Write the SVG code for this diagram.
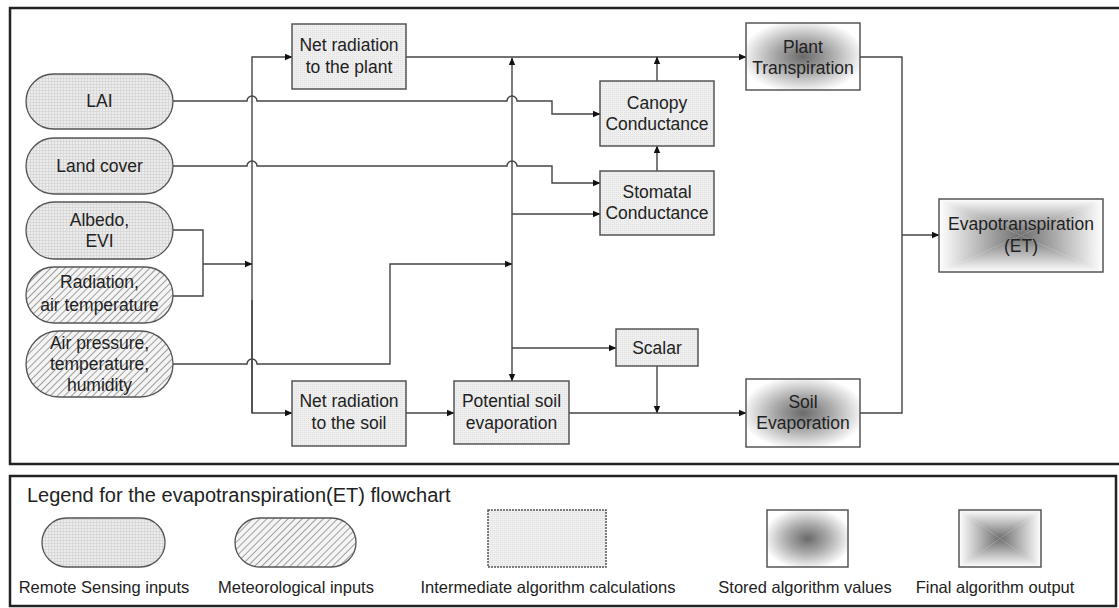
<svg xmlns="http://www.w3.org/2000/svg" width="1119" height="608" viewBox="0 0 1119 608">
<style>
text{font-family:"Liberation Sans",Arial,sans-serif;font-size:17.5px;fill:#222;text-anchor:middle}
.rs{fill:url(#grid);stroke:#555;stroke-width:1.3}
.met{fill:url(#hatch);stroke:#555;stroke-width:1.3}
.mid{fill:url(#dots);stroke:#555;stroke-width:1.5}
.sto{fill:url(#rad);stroke:#555;stroke-width:1.5}
.fin{fill:none;stroke:#555;stroke-width:1.5}
.c{fill:none;stroke:#444;stroke-width:1.4}
.a{marker-end:url(#ah)}
.frame{fill:none;stroke:#222;stroke-width:2.5}
.leg{font-size:16.5px;text-anchor:middle}
</style>
<defs>
<pattern id="grid" width="3" height="3" patternUnits="userSpaceOnUse">
<rect width="3" height="3" fill="#ececec"/>
<path d="M0,0.5H3M0.5,0V3" stroke="#d6d6d6" stroke-width="0.8"/>
</pattern>
<pattern id="hatch" width="5" height="5" patternUnits="userSpaceOnUse" patternTransform="rotate(45)">
<rect width="5" height="5" fill="#f4f4f4"/>
<line x1="0" y1="0" x2="0" y2="5" stroke="#7a7a7a" stroke-width="1.4"/>
</pattern>
<pattern id="dots" width="2" height="2" patternUnits="userSpaceOnUse">
<rect width="2" height="2" fill="#efefef"/>
<rect width="1" height="1" fill="#e0e0e0"/>
</pattern>
<radialGradient id="rad" cx="0.5" cy="0.5" r="0.55">
<stop offset="0" stop-color="#6a6a6a"/>
<stop offset="0.45" stop-color="#a8a8a8"/>
<stop offset="1" stop-color="#ffffff"/>
</radialGradient>
<linearGradient id="gT" x1="0" y1="0" x2="0" y2="1"><stop offset="0" stop-color="#fff"/><stop offset="1" stop-color="#6e6e6e"/></linearGradient>
<linearGradient id="gB" x1="0" y1="1" x2="0" y2="0"><stop offset="0" stop-color="#fff"/><stop offset="1" stop-color="#6e6e6e"/></linearGradient>
<linearGradient id="gL" x1="0" y1="0" x2="1" y2="0"><stop offset="0" stop-color="#fff"/><stop offset="1" stop-color="#6e6e6e"/></linearGradient>
<linearGradient id="gR" x1="1" y1="0" x2="0" y2="0"><stop offset="0" stop-color="#fff"/><stop offset="1" stop-color="#6e6e6e"/></linearGradient>
<marker id="ah" markerWidth="8" markerHeight="8" refX="7" refY="4" orient="auto-start-reverse" markerUnits="userSpaceOnUse">
<path d="M0,0.8 L7.5,4 L0,7.2 Z" fill="#111"/>
</marker>
</defs>
<rect width="1119" height="608" fill="#fff"/>
<rect class="frame" x="10" y="8" width="1125" height="456"/>
<rect class="frame" x="10" y="476" width="1106" height="130" stroke-width="2"/>

<g id="connectors">
<path class="c a" d="M252,413 V57 H292"/>
<path class="c a" d="M252,300 V413 H292"/>
<path class="c" d="M173,230 H203 V296 H173"/>
<path class="c a" d="M203,264 H252"/>
<path class="c a" d="M173,101 H247 a5,5 0 0 1 10,0 H507 a5,5 0 0 1 10,0 H552 V114 H600"/>
<path class="c a" d="M173,166 H247 a5,5 0 0 1 10,0 H507 a5,5 0 0 1 10,0 H552 V183 H600"/>
<path class="c a" d="M173,364 H247 a5,5 0 0 1 10,0 H390 V264 H512"/>
<path class="c a" d="M406,57 H746"/>
<path class="c a" d="M512,58 V381" style="marker-start:url(#ah)"/>
<path class="c a" d="M512,214 H600"/>
<path class="c a" d="M512,348 H616"/>
<path class="c a" d="M657,366 V413"/>
<path class="c a" d="M406,413 H454"/>
<path class="c a" d="M569,413 H746"/>
<path class="c a" d="M657,81 V57"/>
<path class="c a" d="M657,171 V146"/>
<path class="c" d="M860,57 H902 V413 H860"/>
<path class="c a" d="M902,235 H939"/>
</g>

<g id="lai"><rect class="rs" x="26" y="74" width="147" height="55" rx="27.5"/><text x="99.5" y="107">LAI</text></g>
<g id="landcover"><rect class="rs" x="26" y="138" width="147" height="56" rx="28"/><text x="99.5" y="172">Land cover</text></g>
<g id="albedo"><rect class="rs" x="26" y="202" width="147" height="57" rx="28.5"/><text x="99.5" y="226">Albedo,</text><text x="99.5" y="247">EVI</text></g>
<g id="radiation"><rect class="met" x="26" y="267" width="147" height="56" rx="28"/><text x="99.5" y="288">Radiation,</text><text x="99.5" y="311">air temperature</text></g>
<g id="airpressure"><rect class="met" x="26" y="331" width="147" height="66" rx="33"/><text x="99.5" y="349">Air pressure,</text><text x="99.5" y="370">temperature,</text><text x="99.5" y="391">humidity</text></g>

<g id="netrad-plant"><rect class="mid" x="292" y="24" width="114" height="65"/><text x="349" y="51">Net radiation</text><text x="349" y="73">to the plant</text></g>
<g id="netrad-soil"><rect class="mid" x="292" y="381" width="114" height="65"/><text x="349" y="407">Net radiation</text><text x="349" y="429">to the soil</text></g>
<g id="potential"><rect class="mid" x="454" y="381" width="115" height="63"/><text x="511.5" y="407">Potential soil</text><text x="511.5" y="429">evaporation</text></g>
<g id="canopy"><rect class="mid" x="600" y="81" width="114" height="65"/><text x="657" y="109">Canopy</text><text x="657" y="130">Conductance</text></g>
<g id="stomatal"><rect class="mid" x="600" y="171" width="114" height="64"/><text x="657" y="198">Stomatal</text><text x="657" y="219">Conductance</text></g>
<g id="scalar"><rect class="mid" x="616" y="329" width="82" height="37"/><text x="657" y="354">Scalar</text></g>

<g id="plant-transpiration"><rect class="sto" x="746" y="23" width="114" height="67"/><text x="803" y="53">Plant</text><text x="803" y="74">Transpiration</text></g>
<g id="soil-evaporation"><rect class="sto" x="746" y="379" width="114" height="68"/><text x="803" y="408">Soil</text><text x="803" y="429">Evaporation</text></g>

<g id="et">
<polygon points="939,199 1103,199 1021,235.5" fill="url(#gT)"/>
<polygon points="939,272 1103,272 1021,235.5" fill="url(#gB)"/>
<polygon points="939,199 939,272 1021,235.5" fill="url(#gL)"/>
<polygon points="1103,199 1103,272 1021,235.5" fill="url(#gR)"/>
<rect class="fin" x="939" y="199" width="164" height="73"/>
<text x="1021" y="230">Evapotranspiration</text><text x="1021" y="252">(ET)</text>
</g>

<g id="legend">
<text x="27" y="502" style="font-size:20px;text-anchor:start">Legend for the evapotranspiration(ET) flowchart</text>
<rect class="rs" x="42" y="518" width="123" height="49" rx="24.5"/>
<rect class="met" x="235" y="518" width="121" height="49" rx="24.5"/>
<rect class="mid" x="488" y="510" width="118" height="57" stroke-dasharray="2,1"/>
<rect class="sto" x="767" y="510" width="81" height="57"/>
<g>
<polygon points="959,510 1041,510 1000,538.5" fill="url(#gT)"/>
<polygon points="959,567 1041,567 1000,538.5" fill="url(#gB)"/>
<polygon points="959,510 959,567 1000,538.5" fill="url(#gL)"/>
<polygon points="1041,510 1041,567 1000,538.5" fill="url(#gR)"/>
<rect class="fin" x="959" y="510" width="82" height="57"/>
</g>
<text class="leg" x="104" y="593">Remote Sensing inputs</text>
<text class="leg" x="296" y="593">Meteorological inputs</text>
<text class="leg" x="548" y="593">Intermediate algorithm calculations</text>
<text class="leg" x="805" y="593">Stored algorithm values</text>
<text class="leg" x="995" y="593">Final algorithm output</text>
</g>
</svg>
